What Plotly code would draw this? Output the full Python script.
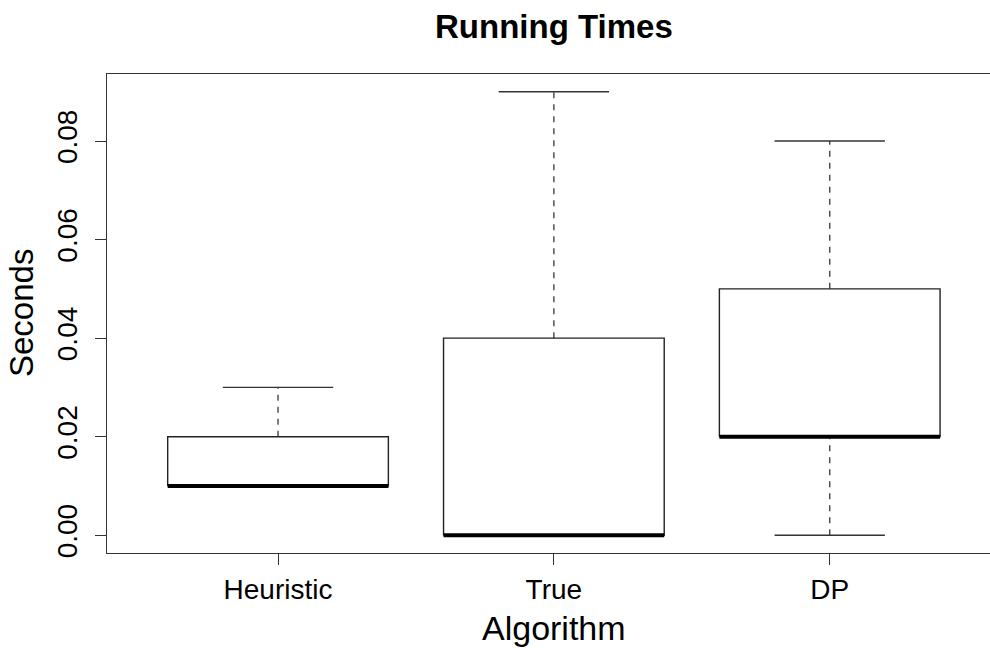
import plotly.graph_objects as go

# ---- data ----
categories = ["Heuristic", "True", "DP"]
lower_whisker = [0.01, 0.00, 0.00]
q1_values = [0.01, 0.00, 0.02]
median_values = [0.01, 0.00, 0.02]
q3_values = [0.02, 0.04, 0.05]
upper_whisker = [0.03, 0.09, 0.08]
y_ticks = [0.00, 0.02, 0.04, 0.06, 0.08]

FONT = "Liberation Sans, Arial, Helvetica, sans-serif"
LINE = "#222222"
half_box = 0.4
half_cap = 0.2

fig = go.Figure()
positions = list(range(1, len(categories) + 1))

for pos, lo, q1, med, q3, hi in zip(positions, lower_whisker, q1_values,
                                     median_values, q3_values, upper_whisker):
    # whiskers (dashed)
    if hi > q3:
        fig.add_trace(go.Scatter(x=[pos, pos], y=[q3, hi], mode="lines",
                                 line=dict(color="#444444", width=1.4, dash="6px,6px"),
                                 hoverinfo="skip", showlegend=False))
    if lo < q1:
        fig.add_trace(go.Scatter(x=[pos, pos], y=[lo, q1], mode="lines",
                                 line=dict(color="#444444", width=1.4, dash="6px,6px"),
                                 hoverinfo="skip", showlegend=False))
    # staples
    for v in (lo, hi):
        fig.add_trace(go.Scatter(x=[pos - half_cap, pos + half_cap], y=[v, v], mode="lines",
                                 line=dict(color="#333333", width=1.4),
                                 hoverinfo="skip", showlegend=False))
    # box
    fig.add_trace(go.Scatter(
        x=[pos - half_box, pos + half_box, pos + half_box, pos - half_box, pos - half_box],
        y=[q1, q1, q3, q3, q1], mode="lines", fill="toself", fillcolor="white",
        line=dict(color=LINE, width=1.4), hoverinfo="skip", showlegend=False))
    # median
    fig.add_trace(go.Scatter(x=[pos - half_box, pos + half_box], y=[med, med], mode="lines",
                             line=dict(color="black", width=4),
                             hoverinfo="skip", showlegend=False))

L, R, T, B = 107, 0, 74, 95
plot_w = 990 - L - R
plot_h = 648 - T - B
center_x = (554 - L) / plot_w

fig.update_layout(
    width=990, height=648,
    margin=dict(l=L, r=R, t=T, b=B),
    paper_bgcolor="white", plot_bgcolor="white",
    font=dict(family=FONT, color="black"),
    showlegend=False,
    xaxis=dict(range=[0.38, 3.581], tickmode="array", tickvals=positions, ticktext=categories,
               showgrid=False, zeroline=False, showline=True, mirror=True,
               linecolor="#333333", linewidth=1.2,
               ticks="outside", ticklen=11, tickcolor="#333333", tickwidth=1.2,
               tickfont=dict(size=28, family=FONT, color="black")),
    yaxis=dict(range=[-0.0036, 0.0936], tickmode="array", tickvals=y_ticks,
               ticktext=[f"{v:.2f}" for v in y_ticks], tickangle=-90,
               ticklabelstandoff=7,
               showgrid=False, zeroline=False, showline=True, mirror=False,
               linecolor="#333333", linewidth=1.2,
               ticks="outside", ticklen=11, tickcolor="#333333", tickwidth=1.2,
               tickfont=dict(size=28, family=FONT, color="black")),
    annotations=[
        dict(text="<b>Running Times</b>", x=center_x, y=1 + (74 - 47) / plot_h,
             xref="paper", yref="paper",
             showarrow=False, font=dict(size=33, family=FONT, color="black"),
             xanchor="center", yanchor="bottom"),
        dict(text="Algorithm", x=center_x, y=0, xref="paper", yref="paper",
             showarrow=False, font=dict(size=34, family=FONT, color="black"),
             xanchor="center", yanchor="top", yshift=-54),
        dict(text="Seconds", x=0, y=0.5, xref="paper", yref="paper", textangle=-90,
             showarrow=False, font=dict(size=33, family=FONT, color="black"),
             xanchor="right", yanchor="middle", xshift=-65),
    ],
)

fig.write_html("out.html")
